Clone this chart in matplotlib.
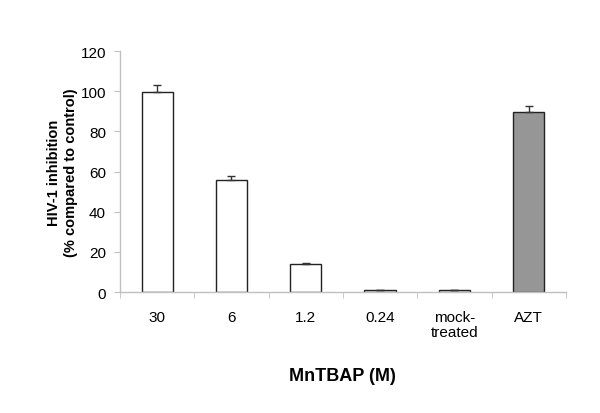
import matplotlib
matplotlib.use("Agg")
import matplotlib.pyplot as plt
import numpy as np

plt.rcParams['font.family'] = ['Liberation Sans', 'DejaVu Sans']

categories = ["30", "6", "1.2", "0.24", "mock-\ntreated", "AZT"]
inhibition = [99.5, 56.0, 14.2, 1.0, 1.0, 89.5]
errors = [3.5, 2.0, 0.4, 0.0, 0.0, 3.0]
bar_colors = ["white", "white", "white", "white", "white", "#969696"]

fig = plt.figure(figsize=(6, 4.14), dpi=100)
ax = fig.add_axes([0.2, 0.292, 0.743, 0.582])

x = np.arange(len(categories))
ax.bar(x, inhibition, width=0.42, color=bar_colors, edgecolor="#222222",
       linewidth=1.0, zorder=2)
ax.errorbar(x, inhibition, yerr=[np.zeros(len(errors)), errors], fmt="none",
            ecolor="#333333", elinewidth=1.0, capsize=2.8, capthick=1.0, zorder=3)

ax.set_xlim(-0.5, len(categories) - 0.5)
ax.set_ylim(0, 120)
ax.set_yticks(range(0, 121, 20))
ax.set_xticks(x)
ax.set_xticklabels(categories, fontsize=11, linespacing=1.1)
ax.tick_params(axis="x", length=0, pad=13)
ax.set_xticks(np.arange(-0.5, len(categories)), minor=True)
ax.tick_params(axis="x", which="minor", length=4, color="#c0c0c0", direction="out")
ax.tick_params(axis="y", labelsize=11, length=4, color="#c0c0c0", pad=6)

for side in ["top", "right"]:
    ax.spines[side].set_visible(False)
for side in ["left", "bottom"]:
    ax.spines[side].set_color("#c0c0c0")
    ax.spines[side].set_linewidth(1.0)

ax.set_ylabel("HIV-1 inhibition\n(% compared to control)", fontsize=10.5,
              fontweight="bold", labelpad=2, linespacing=1.3)
ax.set_xlabel("MnTBAP (M)", fontsize=13, fontweight="bold", labelpad=20)

fig.savefig("out.png", dpi=100)
